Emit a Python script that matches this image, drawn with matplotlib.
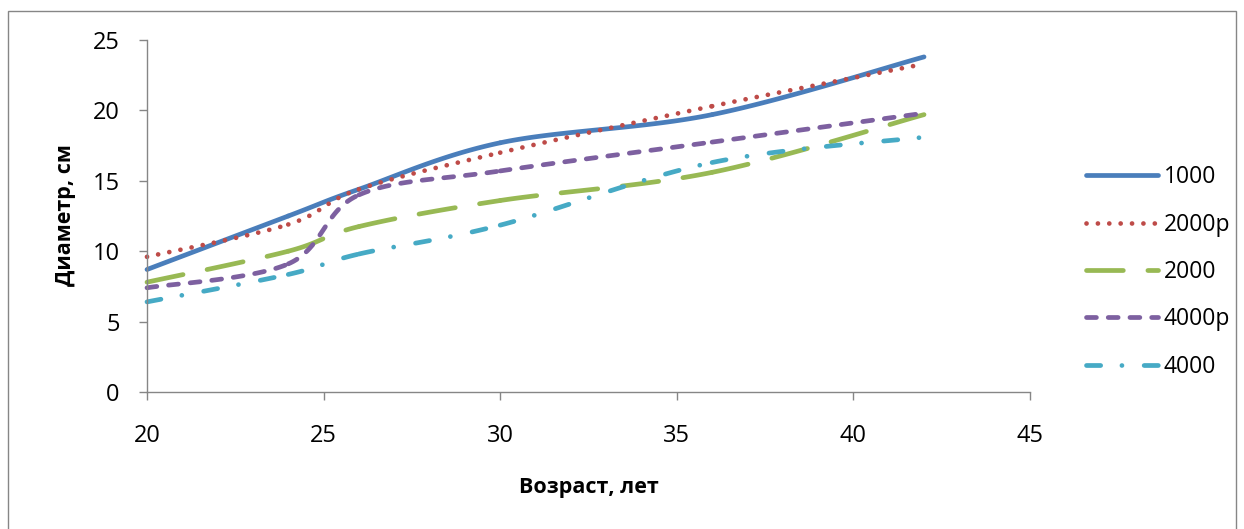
import matplotlib
matplotlib.use('Agg')
import matplotlib.pyplot as plt
from matplotlib.patches import Rectangle
import numpy as np

plt.rcParams['font.family'] = ['Open Sans', 'DejaVu Sans']

# data
age = [20, 24, 26, 30, 36, 42]
d1000 = [8.7, 12.5, 14.4, 17.7, 19.7, 23.8]
d2000p = [9.6, 11.9, 14.4, 17.0, 20.3, 23.3]
d2000 = [7.8, 10.0, 11.75, 13.6, 15.6, 19.7]
d4000p = [7.4, 9.1, 14.0, 15.7, 17.75, 19.8]
d4000 = [6.4, 8.35, 9.8, 11.85, 16.3, 18.1]

labels = ['1000', '2000р', '2000', '4000р', '4000']
colors = ['#4A7EBB', '#BE4B48', '#98B954', '#7D60A0', '#46AAC5']
dashes = [None, (0.01, 2.4), (7.8, 5.2), (2.1, 2.5), (3.0, 4.5, 0.01, 4.7)]


def smooth(x, y, n=40):
    # excel-like smoothed line: bezier pieces between the points
    p = np.column_stack([x, y]).astype(float)
    pad = np.vstack([p[0], p, p[-1]])
    t = np.linspace(0, 1, n)[:, None]
    segs = []
    for i in range(len(p) - 1):
        p0, p3 = pad[i + 1], pad[i + 2]
        c1 = p0 + (pad[i + 2] - pad[i]) / 6
        c2 = p3 - (pad[i + 3] - pad[i + 1]) / 6
        b = (1 - t) ** 3 * p0 + 3 * (1 - t) ** 2 * t * c1 + 3 * (1 - t) * t ** 2 * c2 + t ** 3 * p3
        segs.append(b)
    return segs


fig = plt.figure(figsize=(12.44, 5.29), dpi=100)
ax = fig.add_axes([147 / 1244, 1 - 392 / 529, (1030 - 147) / 1244, (392 - 40) / 529])

for y, lab, c, d in zip([d1000, d2000p, d2000, d4000p, d4000], labels, colors, dashes):
    for i, seg in enumerate(smooth(age, y)):
        line, = ax.plot(seg[:, 0], seg[:, 1], color=c, lw=3.4,
                        solid_capstyle='round', dash_capstyle='round',
                        label=lab if i == 0 else '_nolegend_', clip_on=False)
        if d is not None:
            line.set_dashes(d)

ax.set_xlim(20, 45)
ax.set_ylim(0, 25)
ax.set_xticks(range(20, 46, 5))
ax.set_yticks(range(0, 26, 5))
for s in ['top', 'right']:
    ax.spines[s].set_visible(False)
for s in ['left', 'bottom']:
    ax.spines[s].set_color('#868686')
    ax.spines[s].set_linewidth(1.0)
ax.tick_params(direction='out', length=5.8, width=1, color='#868686', labelsize=17)
ax.tick_params(axis='x', pad=17)
ax.tick_params(axis='y', pad=14)

fig.text(589 / 1244, 1 - 488 / 529, 'Возраст, лет', ha='center', va='center',
         fontsize=15.5, fontweight='bold')
fig.text(66 / 1244, 1 - 215 / 529, 'Диаметр, см', ha='center', va='center',
         rotation=90, fontsize=15.5, fontweight='bold')

ax.legend(loc='center left', bbox_to_anchor=(1086 / 1244, 1 - 272 / 529),
          bbox_transform=fig.transFigure, frameon=False, fontsize=16.5,
          handlelength=3.15, handletextpad=0.25, labelspacing=1.02,
          borderpad=0, borderaxespad=0)

# outer chart frame (display coords start at the bottom)
fig.patches.append(Rectangle((8, -50), 1228, 529 - 11 + 50, transform=None,
                             fill=False, edgecolor='#868686', lw=1.0))

fig.savefig('out.png', dpi=100)
